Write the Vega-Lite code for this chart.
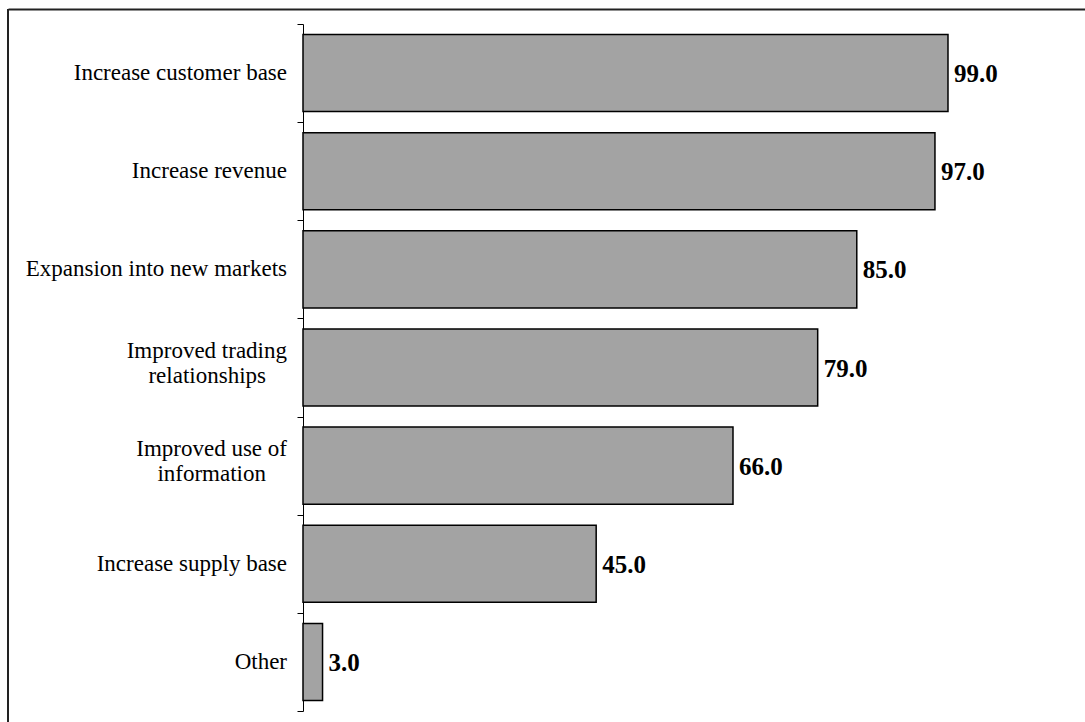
{
  "$schema": "https://vega.github.io/schema/vega-lite/v6.json",
  "width": 1077,
  "height": 713,
  "autosize": {"type": "none"},
  "padding": {"left": 8, "top": 9, "right": 0, "bottom": 0},
  "background": "white",
  "config": {"view": {"stroke": null}, "font": "Liberation Serif"},
  "data": {
    "values": [
      {"reason": "Increase customer base", "pct": 99.0},
      {"reason": "Increase revenue", "pct": 97.0},
      {"reason": "Expansion into new markets", "pct": 85.0},
      {"reason": "Improved trading relationships", "pct": 79.0, "line1": "Improved trading", "line2": "relationships"},
      {"reason": "Improved use of information", "pct": 66.0, "line1": "Improved use of", "line2": "information"},
      {"reason": "Increase supply base", "pct": 45.0},
      {"reason": "Other", "pct": 3.0}
    ]
  },
  "layer": [
    {
      "data": {"values": [{}]},
      "mark": {"type": "rule", "color": "#222222", "strokeWidth": 2},
      "encoding": {
        "x": {
          "datum": -45.28,
          "type": "quantitative",
          "scale": {"domain": [-45.28, 120.03], "nice": false, "zero": false},
          "axis": {"orient": "top", "domain": true, "domainColor": "#222222", "domainWidth": 2, "ticks": false, "labels": false, "grid": false, "title": null}
        }
      }
    },
    {
      "mark": {"type": "bar", "fill": "#a3a3a3", "stroke": "black", "strokeWidth": 1.5, "height": {"band": 0.785}},
      "encoding": {
        "y": {
          "field": "reason",
          "type": "nominal",
          "sort": null,
          "scale": {"range": [15, 702], "paddingInner": 0, "paddingOuter": 0},
          "axis": {
            "title": null,
            "offset": -295,
            "domainColor": "black",
            "domainWidth": 1,
            "tickColor": "black",
            "tickSize": 6,
            "tickWidth": 1,
            "tickBand": "extent",
            "labels": false
          }
        },
        "x": {
          "field": "pct",
          "type": "quantitative",
          "axis": {"orient": "top", "domain": true, "domainColor": "#222222", "domainWidth": 2, "ticks": false, "labels": false, "grid": false, "title": null}
        },
        "x2": {"datum": 0}
      }
    },
    {
      "mark": {"type": "text", "align": "left", "baseline": "middle", "dx": 6, "dy": 1, "fontWeight": "bold", "fontSize": 25, "font": "Liberation Serif", "color": "black"},
      "encoding": {
        "y": {"field": "reason", "type": "nominal", "sort": null},
        "x": {"field": "pct", "type": "quantitative"},
        "text": {"field": "pct", "type": "quantitative", "format": ".1f"}
      }
    },
    {
      "transform": [{"filter": "!datum.line1"}],
      "mark": {"type": "text", "align": "right", "baseline": "middle", "dx": -16, "fontSize": 23, "font": "Liberation Serif", "color": "black"},
      "encoding": {
        "y": {"field": "reason", "type": "nominal", "sort": null},
        "x": {"datum": 0, "type": "quantitative"},
        "text": {"field": "reason", "type": "nominal"}
      }
    },
    {
      "transform": [{"filter": "datum.line1"}],
      "mark": {"type": "text", "align": "right", "baseline": "middle", "dx": -16, "dy": -17, "fontSize": 23, "font": "Liberation Serif", "color": "black"},
      "encoding": {
        "y": {"field": "reason", "type": "nominal", "sort": null},
        "x": {"datum": 0, "type": "quantitative"},
        "text": {"field": "line1", "type": "nominal"}
      }
    },
    {
      "transform": [{"filter": "datum.line1"}],
      "mark": {"type": "text", "align": "right", "baseline": "middle", "dx": -37, "dy": 8, "fontSize": 23, "font": "Liberation Serif", "color": "black"},
      "encoding": {
        "y": {"field": "reason", "type": "nominal", "sort": null},
        "x": {"datum": 0, "type": "quantitative"},
        "text": {"field": "line2", "type": "nominal"}
      }
    }
  ]
}
